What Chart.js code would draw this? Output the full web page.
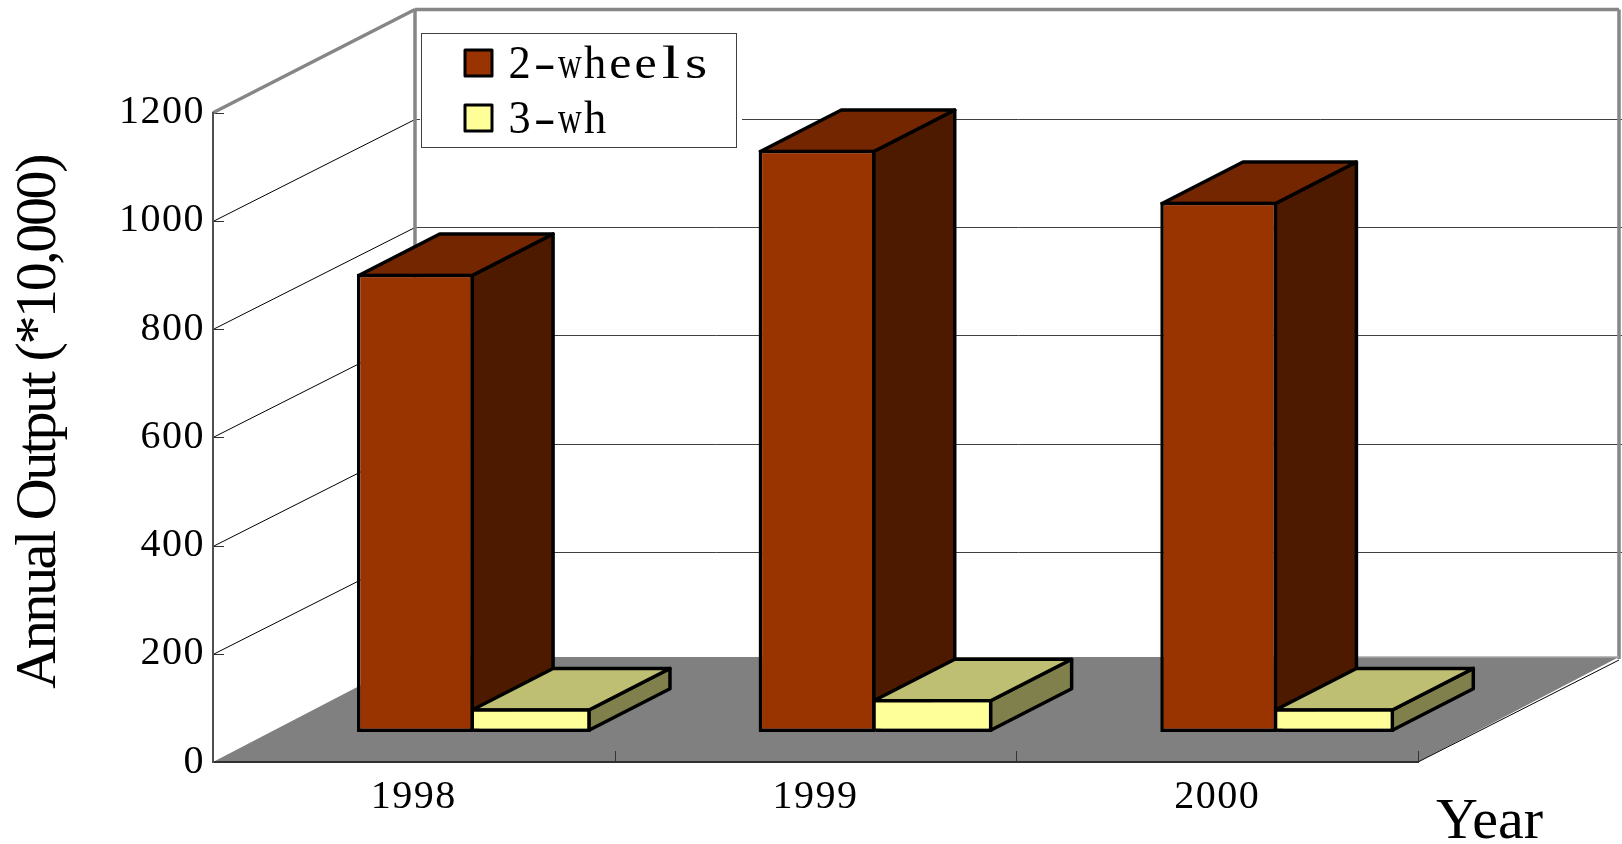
<!DOCTYPE html>
<html>
<head>
<meta charset="utf-8">
<style>html,body{margin:0;padding:0;background:#fff}canvas{display:block}</style>
<script src="https://cdn.jsdelivr.net/npm/chart.js@4/dist/chart.umd.min.js"></script>
</head>
<body>
<canvas id="c" width="1622" height="844"></canvas>
<script>
const categories = ['1998', '1999', '2000'];
const twoWheels = [847, 1076, 980];
const threeWheels = [44, 61, 44];
const seriesNames = ['2-wheels', '3-wh'];
const yTitle = 'Annual Output (*10,000)';
const xTitle = 'Year';

const serif = '"Liberation Serif", "Times New Roman", serif';
const tickSpacing = '1.5px';
// shared depth of the box, and the offset that seats the bars in mid-depth
const barShift = {x: 60, y: -30};
const barDepth = {x: 81, y: -41.5};
const barLine = 3.5;
const faces = [
  {top: '#732600', side: '#4d1a00'},
  {top: '#bfbf73', side: '#80804d'}
];

function line(ctx, x1, y1, x2, y2) {
  ctx.beginPath(); ctx.moveTo(x1, y1); ctx.lineTo(x2, y2); ctx.stroke();
}
function poly(ctx, pts, fill) {
  ctx.beginPath();
  pts.forEach((p, i) => i ? ctx.lineTo(p[0], p[1]) : ctx.moveTo(p[0], p[1]));
  ctx.closePath();
  ctx.fillStyle = fill; ctx.fill();
  ctx.stroke();
}

const box3d = {
  id: 'box3d',
  afterLayout(chart) {
    const wrap = (scale, spacing, dx, dy) => {
      if (scale._wrapped) return;
      scale._wrapped = true;
      const orig = scale.drawTitle.bind(scale);
      scale.drawTitle = function () {
        const ctx = chart.ctx;
        ctx.save();
        ctx.letterSpacing = spacing;
        ctx.translate(dx, dy);
        orig();
        ctx.restore();
      };
    };
    wrap(chart.scales.y, '-2.4px', 0, -15);
    wrap(chart.scales.x, '0px', 125, 14);
  },
  beforeDraw(chart) {
    const {ctx, scales: {x, y}, chartArea: a} = chart;
    const y0 = y.getPixelForValue(0);
    const floorY = y0 - 105, topY = 9.5, backX = 415, rightX = 1619;
    ctx.save();
    ctx.fillStyle = '#ffffff';
    ctx.fillRect(0, 0, chart.width, chart.height);

    // floor
    ctx.fillStyle = '#808080';
    ctx.beginPath();
    ctx.moveTo(a.left, y0); ctx.lineTo(backX, floorY);
    ctx.lineTo(rightX, floorY); ctx.lineTo(a.right, y0);
    ctx.closePath(); ctx.fill();

    // gridlines: side wall diagonals and back wall horizontals, with inward ticks
    y.ticks.forEach(t => {
      const py = Math.round(y.getPixelForValue(t.value)) + 0.5;
      ctx.strokeStyle = '#303030'; ctx.lineWidth = 1;
      line(ctx, a.left, py, a.left + 11, py);
      if (t.value === 0 || t.value === 1200) return;
      ctx.strokeStyle = '#000000';
      line(ctx, a.left, py, backX, py - 102);
      ctx.strokeStyle = '#404040';
      line(ctx, backX, py - 102, chart.width, py - 102);
    });

    // wall outlines
    ctx.strokeStyle = '#868686'; ctx.lineWidth = 3.5;
    line(ctx, a.left, a.top, backX, topY);
    line(ctx, backX, topY, rightX, topY);
    line(ctx, backX, topY, backX, floorY);
    line(ctx, rightX, topY, rightX, floorY + 2);
    ctx.strokeStyle = '#a8a8a8'; ctx.lineWidth = 1.5;
    line(ctx, a.right - 200, floorY, rightX, floorY);
    ctx.strokeStyle = '#000000'; ctx.lineWidth = 1;
    line(ctx, a.right, y0, rightX, floorY + 3);

    // inward category ticks
    const step = x.getPixelForValue(1) - x.getPixelForValue(0);
    ctx.strokeStyle = '#333333'; ctx.lineWidth = 1;
    categories.forEach((c, i) => {
      const px = Math.round(x.getPixelForValue(i) + step / 2) + 0.5;
      line(ctx, px, y0, px, y0 - 11);
    });
    ctx.restore();
    ctx.letterSpacing = tickSpacing;
  },
  beforeDatasetsDraw(chart) {
    const ctx = chart.ctx;
    ctx.save();
    ctx.letterSpacing = '0px';
    ctx.translate(barShift.x, barShift.y);
    ctx.strokeStyle = '#000000';
    ctx.lineWidth = barLine;
    ctx.lineJoin = 'round';
    categories.forEach((c, i) => {
      chart.data.datasets.forEach((d, di) => {
        const el = chart.getDatasetMeta(di).data[i];
        const bw = barLine / 2;
        // the second bar shares its left edge with the first bar's right border
        const l = el.x - el.width / 2 + (di === 1 ? -bw : bw), r = el.x + el.width / 2 - bw;
        const t = el.y + bw, b = el.base - bw;
        poly(ctx, [[r, t], [r + barDepth.x, t + barDepth.y], [r + barDepth.x, b + barDepth.y], [r, b]], faces[di].side);
        poly(ctx, [[l, t], [l + barDepth.x, t + barDepth.y], [r + barDepth.x, t + barDepth.y], [r, t]], faces[di].top);
      });
    });
  },
  afterDatasetsDraw(chart) {
    const ctx = chart.ctx;
    ctx.restore();
    // legend box
    ctx.save();
    ctx.letterSpacing = '0px';
    ctx.fillStyle = '#ffffff';
    ctx.fillRect(420, 32, 322, 116);
    ctx.strokeStyle = '#404040'; ctx.lineWidth = 1;
    ctx.strokeRect(421.5, 33.5, 315, 114);
    const rows = [[50, 78], [105, 133]];
    chart.data.datasets.forEach((d, i) => {
      const [sy, base] = rows[i];
      ctx.fillStyle = d.backgroundColor;
      ctx.strokeStyle = '#000000'; ctx.lineWidth = 3;
      ctx.lineJoin = 'round';
      ctx.fillRect(465, sy, 27, 26);
      ctx.strokeRect(465, sy, 27, 26);
      ctx.fillStyle = '#000000';
      ctx.font = '47px ' + serif;
      ctx.textAlign = 'left'; ctx.textBaseline = 'alphabetic';
      const cell = 25.2;
      Array.from(d.label).forEach((ch, k) => {
        const w = ctx.measureText(ch).width;
        const sx = Math.max(0.7, Math.min(1.4, (cell - 3) / w));
        ctx.save();
        ctx.translate(507 + k * cell + cell / 2, base);
        ctx.scale(sx, 1);
        ctx.fillText(ch, -w / 2, 0);
        ctx.restore();
      });
    });
    ctx.restore();
    ctx.letterSpacing = tickSpacing;
  }
};

new Chart(document.getElementById('c'), {
  type: 'bar',
  plugins: [box3d],
  data: {
    labels: categories,
    datasets: [
      {label: seriesNames[0], data: twoWheels, backgroundColor: '#993300', borderColor: '#000000', borderWidth: barLine, borderSkipped: false, clip: false},
      {label: seriesNames[1], data: threeWheels, backgroundColor: '#ffff99', borderColor: '#000000', borderWidth: {left: 0, right: barLine, top: barLine, bottom: barLine}, borderSkipped: false, clip: false}
    ]
  },
  options: {
    responsive: false,
    animation: false,
    categoryPercentage: 0.582,
    barPercentage: 1,
    layout: {padding: {left: 0, top: 112.7, right: 204, bottom: 0}},
    plugins: {legend: {display: false}, tooltip: {enabled: false}},
    scales: {
      x: {
        afterFit(s) { s.height = 82; },
        grid: {display: false, drawTicks: false},
        border: {display: true, color: '#303030', width: 2},
        ticks: {color: '#000000', padding: 11, maxRotation: 0, font: {family: serif, size: 40}},
        title: {display: true, text: xTitle, color: '#000000', align: 'end', padding: 0, font: {family: serif, size: 58}}
      },
      y: {
        min: 0, max: 1200,
        afterFit(s) { s.width = 213; },
        grid: {display: false, drawTicks: false},
        border: {display: true, color: '#505050', width: 2},
        ticks: {stepSize: 200, color: '#000000', padding: 8, font: {family: serif, size: 40}, callback: v => String(v)},
        title: {display: true, text: yTitle, color: '#000000', padding: 5, font: {family: serif, size: 58}}
      }
    }
  }
});
</script>
</body>
</html>
